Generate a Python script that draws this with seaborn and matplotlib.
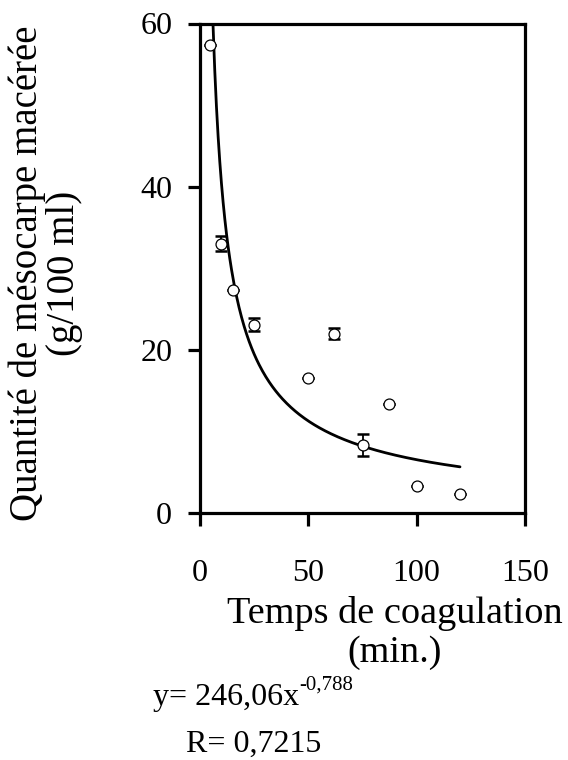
import matplotlib
matplotlib.use("Agg")
import matplotlib.pyplot as plt
import seaborn as sns
import numpy as np
import pandas as pd

# values
temps = [4.5, 9.5, 15, 25, 50, 62, 75, 87, 100, 120]
quantite = [57.4, 33.0, 27.3, 23.1, 16.5, 22.0, 8.3, 13.3, 3.3, 2.3]
erreur = [0.0, 0.9, 0.0, 0.8, 0.0, 0.7, 1.35, 0.0, 0.0, 0.0]
coef_a = 246.06
coef_b = -0.788
x_ticks = [0, 50, 100, 150]
y_ticks = [0, 20, 40, 60]
ylabel = "Quantité de mésocarpe macérée\n(g/100 ml)"
xlabel = "Temps de coagulation\n(min.)"

sns.set_style("ticks")
plt.rcParams["font.family"] = ["Liberation Serif", "DejaVu Serif"]
plt.rcParams["text.color"] = "black"
plt.rcParams["xtick.color"] = "black"
plt.rcParams["ytick.color"] = "black"

df = pd.DataFrame({"temps": temps, "quantite": quantite, "erreur": erreur})

# power trendline given by the chart's own equation
x_fit = np.linspace(min(temps), max(temps), 300)
fit = pd.DataFrame({"temps": x_fit, "quantite": coef_a * x_fit ** coef_b})

W, H = 568, 760
fig = plt.figure(figsize=(W / 100, H / 100), dpi=100)
ax = fig.add_axes([200 / W, 1 - 513 / H, 325 / W, (513 - 23.5) / H])

sns.lineplot(data=fit, x="temps", y="quantite", ax=ax, color="black", lw=2.0, zorder=2)
ax.errorbar(df["temps"], df["quantite"], yerr=df["erreur"], fmt="none",
            ecolor="black", elinewidth=1.3, capsize=4.5, capthick=1.8, zorder=3)
sns.scatterplot(data=df, x="temps", y="quantite", ax=ax, marker="o", s=62,
                facecolor="white", edgecolor="black", linewidth=0.9, zorder=4)

ax.set_xlim(0, 150)
ax.set_ylim(0, 60)
ax.set_xticks(x_ticks)
ax.set_yticks(y_ticks)
ax.set_xlabel("")
ax.set_ylabel("")
for s in ax.spines.values():
    s.set_linewidth(2.3)
    s.set_color("black")
ax.tick_params(axis="both", direction="out", length=9, width=2.3, labelsize=23,
               labelcolor="black")
ax.tick_params(axis="x", pad=24)
ax.tick_params(axis="y", pad=11)

fig.text(46 / W, 1 - 273 / H, ylabel, rotation=90, ha="center", va="center",
         multialignment="center", fontsize=28, linespacing=1.0)
fig.text(395 / W, 1 - 596 / H, xlabel, ha="center", va="top",
         multialignment="center", fontsize=27.5, linespacing=1.15)

eq = fig.text(153 / W, 1 - 705 / H, "y= 246,06x", ha="left", va="baseline", fontsize=23)
ax.annotate("-0,788", xy=(1.0, 0.78), xycoords=eq, ha="left", va="baseline",
            fontsize=15, annotation_clip=False)
fig.text(254 / W, 1 - 752 / H, "R= 0,7215", ha="center", va="baseline", fontsize=23)

fig.savefig("out.png", dpi=100)
